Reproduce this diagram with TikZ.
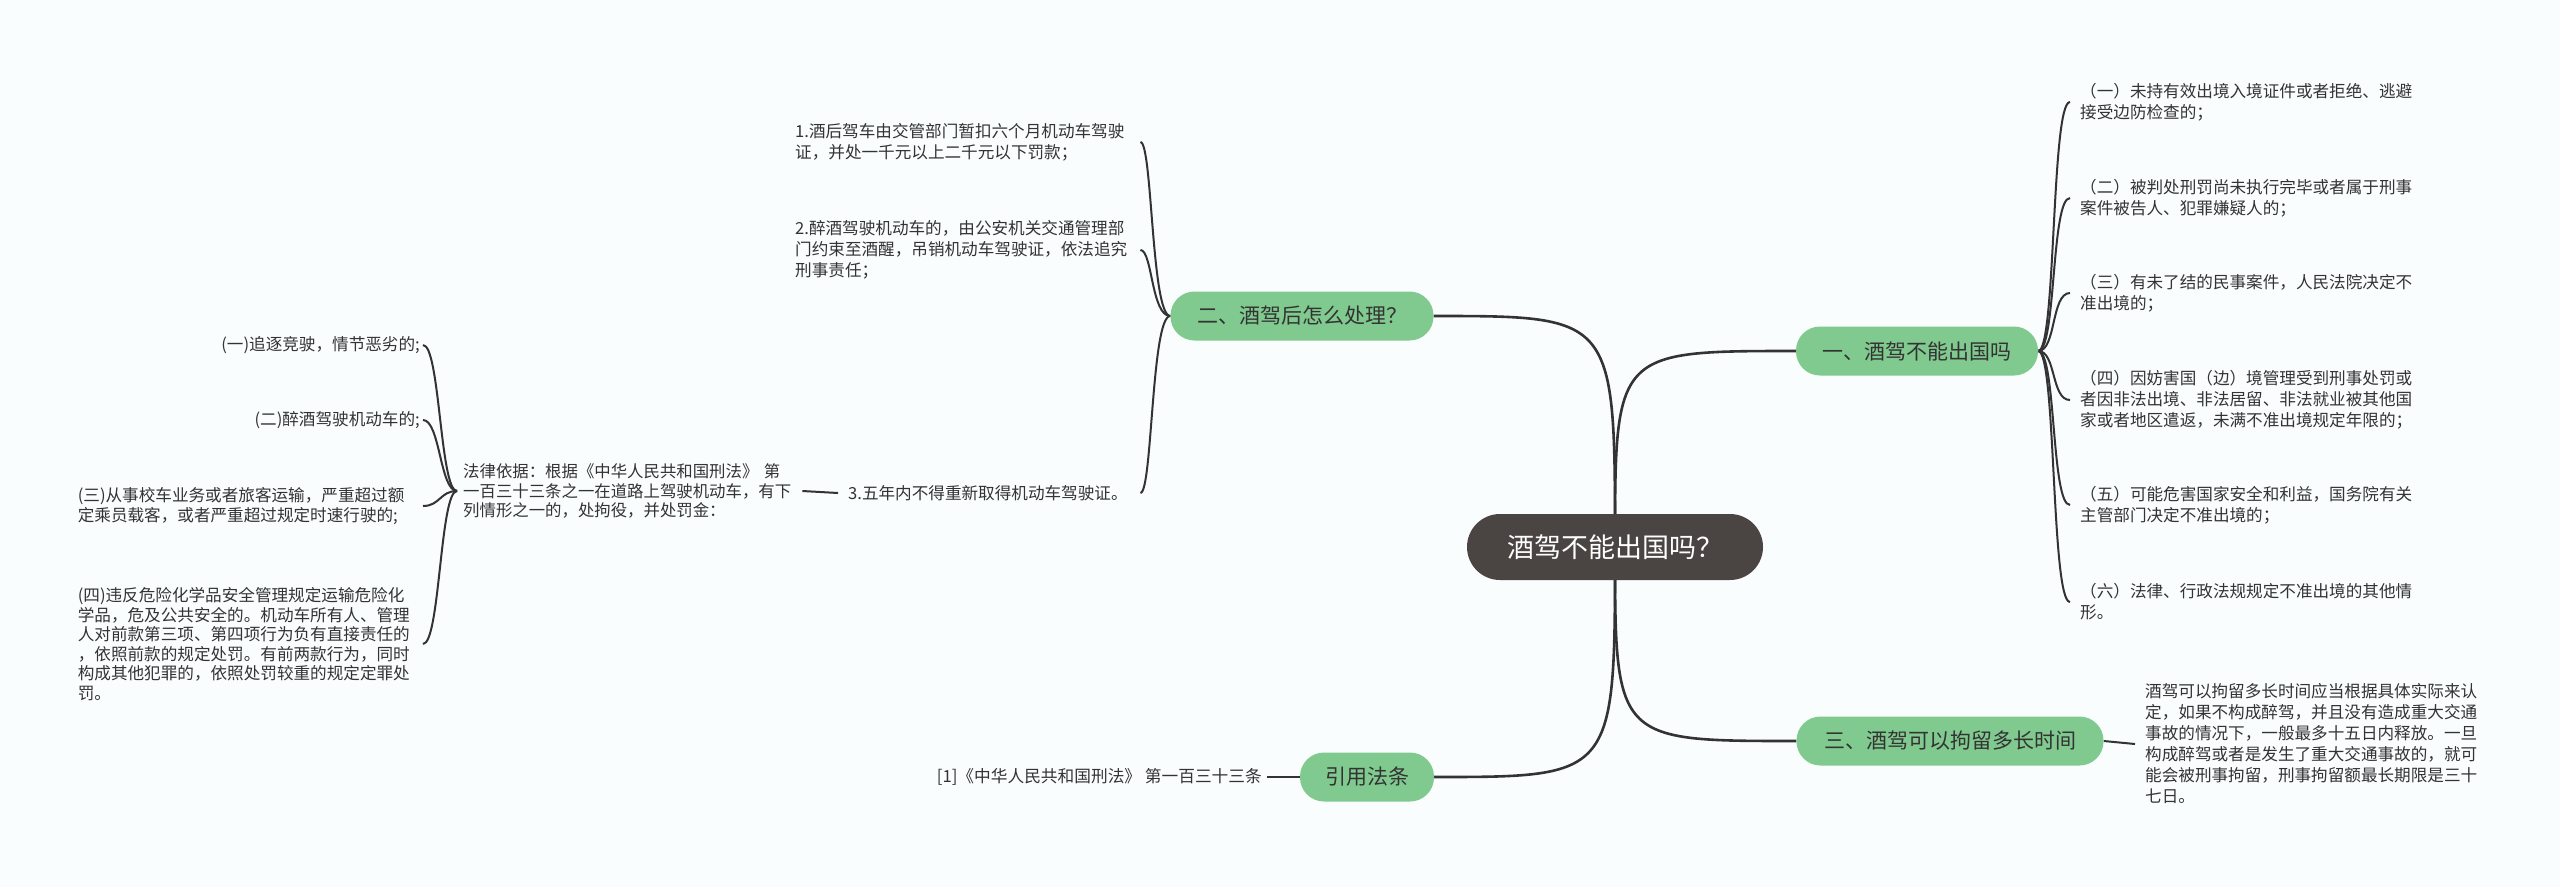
\documentclass[tikz,border=0pt]{standalone}
\usepackage{fontspec}
\newfontfamily\cjk{Noto Sans CJK SC}
\usetikzlibrary{calc}
\definecolor{bgc}{HTML}{F9FDFD}
\definecolor{grn}{HTML}{80CA8F}
\definecolor{ctr}{HTML}{4A4443}
\definecolor{ln}{HTML}{333333}
\definecolor{txt}{HTML}{333333}
\pgfdeclarelayer{bg}\pgfdeclarelayer{lines}\pgfsetlayers{bg,lines,main}
\begin{document}
\begin{tikzpicture}[x=1pt,y=-1pt,
  centernode/.style={rounded corners=33pt, fill=ctr, text=white, minimum width=296pt, minimum height=66pt, inner sep=0pt, font=\cjk\fontsize{27}{32}\selectfont},
  branch/.style={rounded corners=24pt, fill=grn, text=txt, minimum height=49pt, inner sep=0pt, font=\cjk\fontsize{21}{25}\selectfont},
  leaf/.style={inner sep=0pt, text=txt, align=left, anchor=west, font=\cjk\fontsize{16.6}{21}\selectfont},
  leafL/.style={inner sep=0pt, text=txt, anchor=east, text width=342pt, font=\cjk\fontsize{16.6}{19.6}\selectfont},
  conn/.style={draw=ln, line width=2.6pt},
  lconn/.style={draw=ln, line width=2pt}]
\begin{pgfonlayer}{bg}
\fill[bgc] (0,0) rectangle (2560,887);
\end{pgfonlayer}
\useasboundingbox (0,0) rectangle (2560,887);

% central and branch nodes
\node[centernode] (c) at (1615,547) {酒驾不能出国吗？};
\node[branch, minimum width=242pt] (b1) at (1917,351) {一、酒驾不能出国吗};
\node[branch, minimum width=263pt] (b2) at (1302,316) {二、酒驾后怎么处理？};
\node[branch, minimum width=307pt] (b3) at (1950,741) {三、酒驾可以拘留多长时间};
\node[branch, minimum width=134pt] (b4) at (1367,777) {引用法条};

% branch 1 leaves
\node[leaf] (r1) at (2080,102) {（一）未持有效出境入境证件或者拒绝、逃避\\接受边防检查的；};
\node[leaf] (r2) at (2080,198) {（二）被判处刑罚尚未执行完毕或者属于刑事\\案件被告人、犯罪嫌疑人的；};
\node[leaf] (r3) at (2080,293) {（三）有未了结的民事案件，人民法院决定不\\准出境的；};
\node[leaf] (r4) at (2080,400) {（四）因妨害国（边）境管理受到刑事处罚或\\者因非法出境、非法居留、非法就业被其他国\\家或者地区遣返，未满不准出境规定年限的；};
\node[leaf] (r5) at (2080,505) {（五）可能危害国家安全和利益，国务院有关\\主管部门决定不准出境的；};
\node[leaf] (r6) at (2080,602) {（六）法律、行政法规规定不准出境的其他情\\形。};

% branch 3 leaf
\node[leaf] (t1) at (2145,744) {酒驾可以拘留多长时间应当根据具体实际来认\\定，如果不构成醉驾，并且没有造成重大交通\\事故的情况下，一般最多十五日内释放。一旦\\构成醉驾或者是发生了重大交通事故的，就可\\能会被刑事拘留，刑事拘留额最长期限是三十\\七日。};

% branch 2 leaves
\node[leaf, text width=340pt] (l1) at (795,142) {1.酒后驾车由交管部门暂扣六个月机动车驾驶\\证，并处一千元以上二千元以下罚款；};
\node[leaf, text width=340pt] (l2) at (795,250) {2.醉酒驾驶机动车的，由公安机关交通管理部\\门约束至酒醒，吊销机动车驾驶证，依法追究\\刑事责任；};
\node[leaf, text width=287pt] (l3) at (848,493) {3.五年内不得重新取得机动车驾驶证。};
\node[leaf, text width=335pt, font=\cjk\fontsize{16.4}{19.6}\selectfont] (law) at (463,491) {法律依据：根据《中华人民共和国刑法》 第\\一百三十三条之一在道路上驾驶机动车，有下\\列情形之一的，处拘役，并处罚金：};

% left leaves
\node[leafL, align=right] (k1) at (420,345) {(一)追逐竞驶，情节恶劣的;};
\node[leafL, align=right] (k2) at (420,420) {(二)醉酒驾驶机动车的;};
\node[leafL, align=left] (k3) at (420,506) {(三)从事校车业务或者旅客运输，严重超过额\\定乘员载客，或者严重超过规定时速行驶的;};
\node[leafL, align=left] (k4) at (420,644) {(四)违反危险化学品安全管理规定运输危险化\\学品，危及公共安全的。机动车所有人、管理\\人对前款第三项、第四项行为负有直接责任的\\，依照前款的规定处罚。有前两款行为，同时\\构成其他犯罪的，依照处罚较重的规定定罪处\\罚。};

% reference leaf
\node[inner sep=0pt, text=txt, anchor=east, font=\cjk\fontsize{16.7}{21}\selectfont] (ref) at (1262,777) {[1]《中华人民共和国刑法》 第一百三十三条};

\begin{pgfonlayer}{lines}
\draw[conn] (c.center) .. controls (c.center |- b1.west) .. (b1.west);
\draw[conn] (c.center) .. controls (c.center |- b2.east) .. (b2.east);
\draw[conn] (c.center) .. controls (c.center |- b3.west) .. (b3.west);
\draw[conn] (c.center) .. controls (c.center |- b4.east) .. (b4.east);
\foreach \n in {r1,r2,r3,r4,r5,r6}
  \draw[lconn] (b1.east) .. controls +(18,0) and +(-19,0) .. ([xshift=-10pt]\n.west);
\draw[lconn] (b3.east) -- ([xshift=-10pt]t1.west);
\foreach \n in {l1,l2,l3}
  \draw[lconn] (b2.west) .. controls +(-19,0) and +(12,0) .. ([xshift=5pt]\n.east);
\draw[lconn] ([xshift=4pt]law.east) -- ([xshift=-10pt]l3.west);
\foreach \n in {k1,k2,k3,k4}
  \draw[lconn] ([xshift=-6pt]law.west) .. controls +(-17,0) and +(17,0) .. ([xshift=3pt]\n.east);
\draw[lconn] (b4.west) -- ([xshift=5pt]ref.east);
\end{pgfonlayer}
\end{tikzpicture}
\end{document}
